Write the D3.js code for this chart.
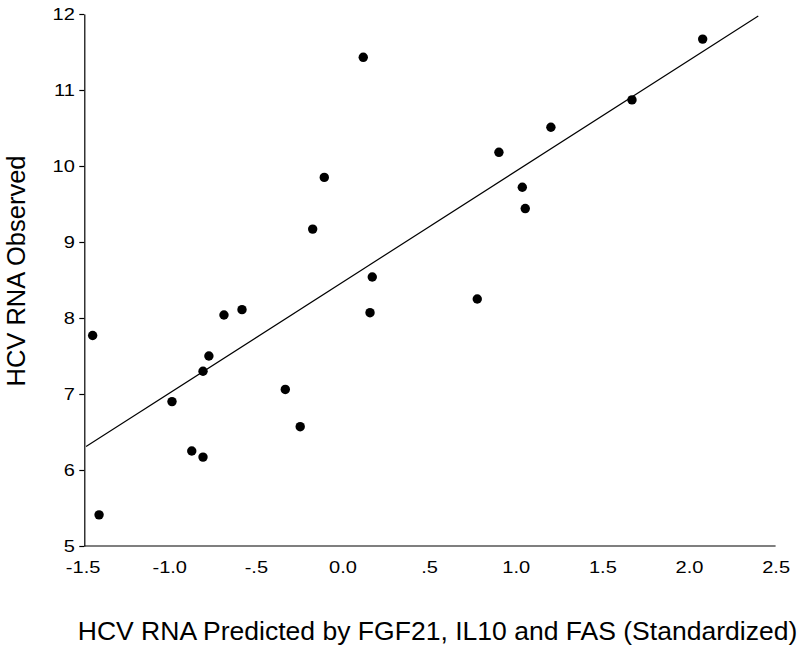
<!DOCTYPE html>
<html>
<head>
<meta charset="utf-8">
<script src="https://cdn.jsdelivr.net/npm/d3@7/dist/d3.min.js"></script>
<style>
  html, body { margin: 0; padding: 0; background: #fff; }
  svg { display: block; font-family: "Liberation Sans", Arial, sans-serif; }
</style>
</head>
<body>
<svg id="chart" width="800" height="651"></svg>
<script>
// Data
const predicted = [-1.442, -1.405, -0.984, -0.870, -0.805, -0.805, -0.771, -0.684, -0.580, -0.330, -0.244, -0.172,
                   -0.105, 0.120, 0.159, 0.172, 0.778, 0.903, 1.038, 1.055, 1.203, 1.671, 2.079];
const observed  = [7.77, 5.41, 6.90, 6.25, 6.17, 7.30, 7.50, 8.04, 8.11, 7.06, 6.57, 9.17,
                   9.85, 11.43, 8.07, 8.54, 8.25, 10.18, 9.72, 9.44, 10.51, 10.87, 11.67];
const fitIntercept = 8.47;
const fitSlope = 1.46;
const fitRange = [-1.48, 2.40];
const xTicks = [-1.5, -1.0, -0.5, 0.0, 0.5, 1.0, 1.5, 2.0, 2.5];
const xTickLabels = ["-1.5", "-1.0", "-.5", "0.0", ".5", "1.0", "1.5", "2.0", "2.5"];
const yTicks = [5, 6, 7, 8, 9, 10, 11, 12];
const yTickLabels = ["5", "6", "7", "8", "9", "10", "11", "12"];
const xTitle = "HCV RNA Predicted by FGF21, IL10 and FAS (Standardized)";
const yTitle = "HCV RNA Observed";

const svg = d3.select("#chart");
const x = d3.scaleLinear().domain([-1.5, 2.5]).range([82.6, 775.6]);
const y = d3.scaleLinear().domain([5, 12]).range([546, 14]);
const axisX = 84.3;
const tickStretch = 1.18;

// X axis (grey line, no tick marks)
const gx = svg.append("g").attr("transform", `translate(0,${y(5)})`)
  .call(d3.axisBottom(x).tickValues(xTicks).tickSize(0).tickPadding(15)
    .tickFormat((d, i) => xTickLabels[i]));
gx.select(".domain").attr("d", `M${axisX},0H${x(2.5)}`).attr("stroke", "#555").attr("stroke-width", 1.6);
gx.selectAll("text").attr("font-size", 17).attr("fill", "#000")
  .attr("font-family", "'Liberation Sans', Arial, sans-serif")
  .attr("transform", `scale(${tickStretch},1)`);

// Y axis
const gy = svg.append("g").attr("transform", `translate(${axisX},0)`)
  .call(d3.axisLeft(y).tickValues(yTicks).tickSize(5).tickSizeOuter(0).tickPadding(5)
    .tickFormat((d, i) => yTickLabels[i]));
gy.select(".domain").attr("stroke", "#000").attr("stroke-width", 1.2);
gy.selectAll(".tick line").attr("stroke", "#000").attr("stroke-width", 1.2);
gy.selectAll("text").attr("font-size", 17).attr("fill", "#000")
  .attr("font-family", "'Liberation Sans', Arial, sans-serif")
  .attr("x", 0)
  .attr("transform", `translate(-9.5,0) scale(${tickStretch},1)`);

// Regression line
const fitPts = fitRange.map(v => [v, fitIntercept + fitSlope * v]);
svg.append("path")
  .attr("d", d3.line().x(d => x(d[0])).y(d => y(d[1]))(fitPts))
  .attr("fill", "none").attr("stroke", "#000").attr("stroke-width", 1.2);

// Points
svg.append("g").selectAll("circle")
  .data(predicted.map((v, i) => [v, observed[i]]))
  .join("circle")
  .attr("cx", d => x(d[0])).attr("cy", d => y(d[1]))
  .attr("r", 4.7).attr("fill", "#000");

// Titles
svg.append("text")
  .attr("transform", "translate(437.5,640) scale(1.062,1)")
  .attr("text-anchor", "middle")
  .attr("font-size", 25).attr("fill", "#000")
  .text(xTitle);

svg.append("text")
  .attr("transform", "translate(25,271) rotate(-90)")
  .attr("text-anchor", "middle")
  .attr("font-size", 25.5).attr("fill", "#000")
  .text(yTitle);
</script>
</body>
</html>
